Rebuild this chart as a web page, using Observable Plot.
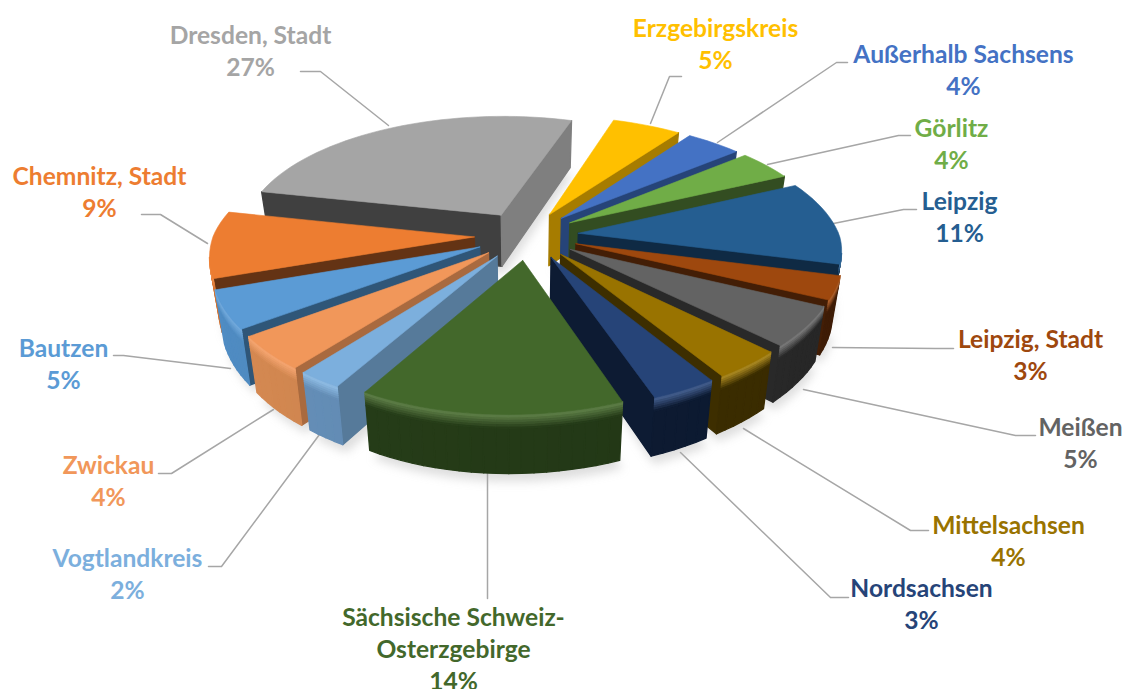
<!DOCTYPE html>
<html><head><meta charset="utf-8">
<script src="https://cdn.jsdelivr.net/npm/d3@7"></script>
<script src="https://cdn.jsdelivr.net/npm/@observablehq/plot@0.6"></script>
<style>html,body{margin:0;padding:0;background:#fff}svg{display:block}</style>
</head><body><div id="c"></div>
<script>
const names=["Erzgebirgskreis","Außerhalb Sachsens","Görlitz","Leipzig","Leipzig, Stadt","Meißen","Mittelsachsen","Nordsachsen","Sächsische Schweiz-\nOsterzgebirge","Vogtlandkreis","Zwickau","Bautzen","Chemnitz, Stadt","Dresden, Stadt"];
const shares=[5,4,4,11,3,5,3.6,3.4,14,2.4,4.4,4.9,8.7,26.6];
const topColors=["#ffc000","#4472c4","#70ad47","#255e91","#9e480e","#636363","#997300","#264478","#43682b","#7cafdd","#f1975a","#5b9bd5","#ed7d31","#a5a5a5"];
const radialColors=["#a67c00","#264478","#334d21","#0f2a44","#431e06","#292929","#3d2e00","#0d1b33","#263b18","#567a9a","#a96a3f","#2f5678","#643314","#404040"];
const arcColors=["#a67c00","#264478","#334d21","#0f2a44","#431e06","#2a2a2a","#3d2e00","#0d1b33","#243a17","#5f87ae","#c7804c","#4a82b5","#c56a2b","#7f7f7f"];
const labelColors=topColors;
const labelCenters=[[715,42],[963,68],[951,142],[959,215],[1030,353],[1080,441],[1008,539],[921,602],[453,647],[127,572],[108,479],[63,362],[99,190],[250,49]];
const leaders=[[[681,76],[669,76],[650,123]],[[847,62],[836,62],[717,142]],[[910,135],[898,135],[767,164]],[[916,209],[903,209],[833,223]],[[953,348],[935,348],[832,347]],[[1035,435],[1015,435],[803,389]],[[928,530],[910,530],[743,428]],[[848,597],[830,597],[680,452]],[[487,598],[487,472]],[[208,566],[221,566],[319,434]],[[158,473],[171,473],[273,409]],[[113,355],[123,355],[230,368]],[[141,214],[160,214],[207,243]],[[300,71],[320,71],[388,125]]];
const dresdenEndWall="#7f7f7f";

// Tilted, exploded pie: plane projection
const firstAngle=18,explode=.2,cx=526,cy=235,A=261,B=120.6,k=.16,H=52;
const rad=d=>d*Math.PI/180;
function project(u,v,dz=0){
  const s=1/(1-k*v);
  let x=v>0?cx+A*u*Math.pow(s,.8)-10*v*v:cx+A*u*s-v*v, y=cy+B*v*s;
  x=cx+(x-cx)*(1-.03*dz/H);
  y+=dz*Math.pow(s,.6);
  return [x,y];
}
const total=d3.sum(shares);
let cum=firstAngle;
const slices=shares.map((d,i)=>{
  const a0=cum,a1=cum+d/total*360;cum=a1;
  const m=(a0+a1)/2,apex=[explode*Math.sin(rad(m)),-explode*Math.cos(rad(m))];
  const n=Math.max(3,Math.ceil((a1-a0)/2.5));
  const rim=d3.range(n+1).map(j=>{const a=a0+(a1-a0)*j/n;return {a,p:[apex[0]+Math.sin(rad(a)),apex[1]-Math.cos(rad(a))]};});
  return {i,a0,a1,m,apex,rim};
}).sort((s,t)=>Math.cos(rad(t.m))-Math.cos(rad(s.m)));

const polys=[],shadow=[];let id=0;
function add(pts,color,arr=polys,sw=1.3){const g=id++;[...pts,pts[0]].forEach(p=>arr.push({x:p[0],y:p[1],g,color,sw}));}
const bevel=[0,2,4,6,8,10,12,H];
for(const s of slices){
  const i=s.i;
  const boundary=[s.apex,...s.rim.map(r=>r.p)];
  add(boundary.map(p=>project(p[0],p[1],H+7)).map(([x,y])=>[x+3,y]),"#000",shadow);
  const quad=(p,q,z0,z1,c)=>add([project(p[0],p[1],z0),project(q[0],q[1],z0),project(q[0],q[1],z1),project(p[0],p[1],z1)],c);
  const faces=(p,q)=>project(q[0],q[1])[0]<project(p[0],p[1])[0];
  const start=s.rim[0].p,end=s.rim[s.rim.length-1].p;
  if(faces(s.apex,start))quad(s.apex,start,0,H,radialColors[i]);
  if(faces(end,s.apex))quad(end,s.apex,0,H,i===13?dresdenEndWall:radialColors[i]);
  const hi=d3.interpolateRgb(topColors[i],"#fff")(.12);
  // outer wall with a soft bevel, drawn bottom strip first so seams stay hidden
  for(let b=bevel.length-2;b>=0;b--){
    const t=b/(bevel.length-2);
    for(let j=0;j<s.rim.length-1;j++){
      const p=s.rim[j].p,q=s.rim[j+1].p;
      if(!faces(p,q))continue;
      const mid=(s.rim[j].a+s.rim[j+1].a)/2;
      const wall=d3.color(arcColors[i]).brighter(-.22*Math.sin(rad(mid))).formatHex();
      quad(p,q,bevel[b],bevel[b+1],d3.interpolateRgb(hi,wall)(Math.min(1,t*1.15)));
    }
  }
  add(boundary.map(p=>project(p[0],p[1])),topColors[i],polys,.6);
}
const leaderRows=leaders.flatMap((l,i)=>l.map(p=>({x:p[0],y:p[1],g:i})));
const labels=names.map((n,i)=>({t:n+"\n"+Math.round(shares[i])+"%",x:labelCenters[i][0],y:labelCenters[i][1],c:labelColors[i]}));

const chart=Plot.plot({
  width:1124,height:689,margin:0,
  x:{domain:[0,1124],range:[0,1124],axis:null},
  y:{domain:[0,689],range:[0,689],axis:null},
  color:{type:"identity"},
  marks:[
    Plot.line(shadow,{x:"x",y:"y",z:"g",fill:"#888",stroke:"none",fillOpacity:.28,imageFilter:"blur(5px)"}),
    Plot.line(leaderRows,{x:"x",y:"y",z:"g",stroke:"#a6a6a6",strokeWidth:1.5,curve:"linear"}),
    Plot.line(polys,{x:"x",y:"y",z:"g",fill:"color",stroke:"color",strokeWidth:"sw",curve:"linear"}),
    Plot.text(labels,{x:"x",y:"y",text:"t",fill:"c",fontFamily:"Lato",fontWeight:700,fontSize:24.6,lineHeight:1.3,textAnchor:"middle",lineAnchor:"middle"})
  ]
});
document.getElementById("c").append(chart);
</script></body></html>
